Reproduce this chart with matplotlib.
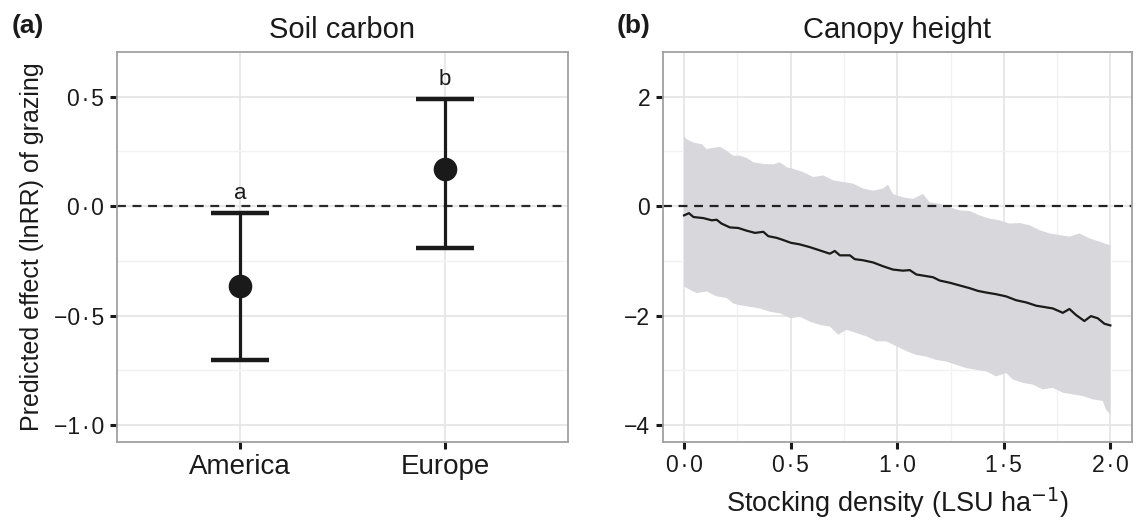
import numpy as np
import matplotlib
matplotlib.use("Agg")
import matplotlib.pyplot as plt
from matplotlib.ticker import FixedLocator, FuncFormatter

plt.rcParams['font.family'] = ['Liberation Sans', 'DejaVu Sans']

# panel (a): soil carbon
regions = ['America', 'Europe']
soil_mean = [-0.367, 0.169]
soil_lo = [-0.703, -0.189]
soil_hi = [-0.029, 0.492]
soil_letters = ['a', 'b']

# panel (b): canopy height, predicted line and interval
line_x = [0.0, 0.023, 0.044, 0.091, 0.130, 0.153, 0.176, 0.215, 0.254, 0.294,
          0.333, 0.372, 0.395, 0.434, 0.465, 0.500, 0.543, 0.590, 0.637, 0.684,
          0.707, 0.731, 0.778, 0.801, 0.840, 0.887, 0.934, 0.980, 1.027, 1.059,
          1.090, 1.137, 1.168, 1.199, 1.246, 1.293, 1.340, 1.379, 1.418, 1.464,
          1.511, 1.558, 1.605, 1.652, 1.683, 1.730, 1.777, 1.808, 1.839, 1.878,
          1.909, 1.941, 1.972, 2.0]
line_y = [-0.17, -0.13, -0.20, -0.22, -0.26, -0.25, -0.32, -0.39, -0.40, -0.45,
          -0.49, -0.47, -0.55, -0.58, -0.62, -0.67, -0.70, -0.75, -0.81, -0.87,
          -0.82, -0.90, -0.90, -0.97, -0.99, -1.03, -1.10, -1.16, -1.18, -1.17,
          -1.25, -1.28, -1.30, -1.36, -1.40, -1.45, -1.50, -1.55, -1.58, -1.61,
          -1.65, -1.72, -1.76, -1.82, -1.84, -1.87, -1.95, -1.88, -1.99, -2.10,
          -2.01, -2.05, -2.15, -2.18]

upper_x = [0.0, 0.012, 0.044, 0.083, 0.106, 0.130, 0.169, 0.200, 0.231, 0.262,
           0.294, 0.325, 0.372, 0.418, 0.450, 0.481, 0.512, 0.559, 0.606, 0.653,
           0.699, 0.746, 0.793, 0.840, 0.887, 0.934, 0.957, 0.980, 1.027, 1.074,
           1.121, 1.152, 1.199, 1.246, 1.293, 1.340, 1.386, 1.433, 1.480, 1.527,
           1.574, 1.621, 1.667, 1.714, 1.761, 1.808, 1.855, 1.902, 1.948, 2.0]
upper_y = [1.28, 1.22, 1.16, 1.13, 1.04, 1.06, 1.08, 1.01, 0.92, 0.92,
           0.88, 0.80, 0.77, 0.76, 0.80, 0.71, 0.68, 0.62, 0.53, 0.56,
           0.47, 0.44, 0.41, 0.32, 0.28, 0.32, 0.39, 0.22, 0.16, 0.13,
           0.22, 0.07, 0.04, -0.02, -0.08, -0.09, -0.17, -0.23, -0.26, -0.32,
           -0.31, -0.35, -0.44, -0.50, -0.53, -0.56, -0.50, -0.59, -0.65, -0.72]

lower_x = [0.0, 0.028, 0.059, 0.106, 0.153, 0.200, 0.231, 0.262, 0.309, 0.356,
           0.403, 0.450, 0.500, 0.543, 0.590, 0.637, 0.684, 0.723, 0.762, 0.809,
           0.856, 0.902, 0.949, 0.996, 1.043, 1.090, 1.137, 1.183, 1.230, 1.277,
           1.324, 1.371, 1.418, 1.464, 1.511, 1.543, 1.590, 1.636, 1.683, 1.730,
           1.777, 1.824, 1.871, 1.917, 1.964, 1.980, 2.0]
lower_y = [-1.47, -1.53, -1.59, -1.56, -1.65, -1.68, -1.78, -1.81, -1.84, -1.87,
           -1.93, -1.96, -2.05, -2.02, -2.11, -2.17, -2.20, -2.35, -2.26, -2.32,
           -2.38, -2.47, -2.47, -2.56, -2.65, -2.72, -2.75, -2.81, -2.84, -2.90,
           -2.96, -2.99, -3.02, -3.11, -3.05, -3.17, -3.23, -3.26, -3.35, -3.32,
           -3.41, -3.44, -3.47, -3.53, -3.56, -3.72, -3.81]

# 0.5 -> "0·5" with a hair of room round the dot, minus as a real minus
dot = lambda v, p: ('%.1f' % v).replace('.', '\u200a\u00b7\u200a').replace('-', '\u2212')
intfmt = lambda v, p: ('%d' % v).replace('-', '\u2212')

fig = plt.figure(figsize=(11.36, 5.26), dpi=100)
axa = fig.add_axes([0.1027, 0.1597, 0.3973, 0.742])
axb = fig.add_axes([0.5834, 0.1597, 0.4128, 0.742])

grid_major = '#e6e6e6'
grid_minor = '#f2f2f2'
ink = '#1a1a1a'
for ax in (axa, axb):
    ax.set_facecolor('white')
    for s in ax.spines.values():
        s.set_color('#a0a0a0')
        s.set_linewidth(1.3)
    ax.grid(True, which='major', color=grid_major, lw=1.3, zorder=0)
    ax.grid(True, which='minor', color=grid_minor, lw=1.0, zorder=0)
    ax.set_axisbelow(True)
    ax.tick_params(which='major', length=5, width=2.2, color=ink,
                   labelsize=16.5, labelcolor=ink, pad=4)
    ax.tick_params(which='minor', length=0)

# panel (a)
xpos = np.arange(1, len(regions) + 1)
axa.axhline(0, color='#2a2a2a', lw=1.6, dashes=(4, 3), zorder=1)
axa.errorbar(xpos, soil_mean,
             yerr=[np.array(soil_mean) - np.array(soil_lo),
                   np.array(soil_hi) - np.array(soil_mean)],
             fmt='o', color=ink, ms=16, elinewidth=2.3, capsize=21,
             capthick=3.2, zorder=3)
for xp, hi, lab in zip(xpos, soil_hi, soil_letters):
    axa.text(xp, hi + 0.06, lab, ha='center', va='baseline', fontsize=16,
             color=ink)
axa.set_xlim(0.4, 2.6)
axa.set_ylim(-1.078, 0.706)
axa.xaxis.set_major_locator(FixedLocator(xpos))
axa.set_xticklabels(regions, fontsize=20)
axa.yaxis.set_major_locator(FixedLocator([-1.0, -0.5, 0.0, 0.5]))
axa.yaxis.set_minor_locator(FixedLocator([-0.75, -0.25, 0.25]))
axa.yaxis.set_major_formatter(FuncFormatter(dot))
axa.set_ylabel('Predicted effect (lnRR) of grazing', fontsize=18,
               color=ink, labelpad=7)
axa.set_title('Soil carbon', fontsize=21, color=ink, pad=10)

# panel (b)
axb.fill(upper_x + lower_x[::-1], upper_y + lower_y[::-1],
         color='#d7d7dc', lw=0, zorder=1)
axb.axhline(0, color='#222222', lw=1.6, dashes=(4, 3), zorder=2)
axb.plot(line_x, line_y, color=ink, lw=1.6, zorder=3)
axb.set_xlim(-0.1, 2.1)
axb.set_ylim(-4.31, 2.82)
axb.xaxis.set_major_locator(FixedLocator([0.0, 0.5, 1.0, 1.5, 2.0]))
axb.xaxis.set_minor_locator(FixedLocator([0.25, 0.75, 1.25, 1.75]))
axb.xaxis.set_major_formatter(FuncFormatter(dot))
axb.yaxis.set_major_locator(FixedLocator([-4, -2, 0, 2]))
axb.yaxis.set_minor_locator(FixedLocator([-3, -1, 1]))
axb.yaxis.set_major_formatter(FuncFormatter(intfmt))
axb.set_xlabel('Stocking density (LSU ha$^{\u22121}$)', fontsize=19.5,
               color=ink, labelpad=6)
axb.set_title('Canopy height', fontsize=21, color=ink, pad=10)

fig.text(0.010, 0.951, '(a)', fontsize=19, fontweight='bold', va='center',
         color=ink)
fig.text(0.543, 0.951, '(b)', fontsize=19, fontweight='bold', va='center',
         color=ink)

fig.savefig('out.png', dpi=100)
